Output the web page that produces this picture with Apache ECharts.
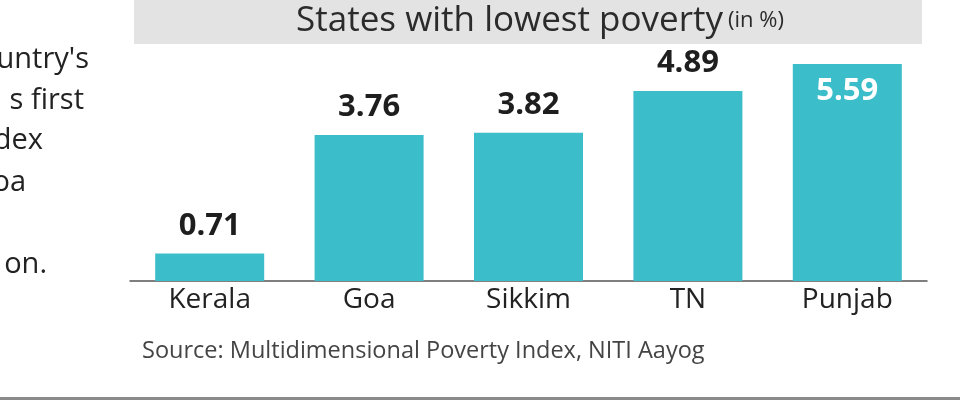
<!DOCTYPE html>
<html>
<head>
<meta charset="utf-8">
<script src="https://cdn.jsdelivr.net/npm/echarts@6/dist/echarts.min.js"></script>
<style>
  html, body { margin: 0; padding: 0; background: #fff; }
  #chart { width: 960px; height: 418px; }
</style>
</head>
<body>
<div id="chart"></div>
<script>
// data
const states = ['Kerala', 'Goa', 'Sikkim', 'TN', 'Punjab']
const povertyPct = [0.71, 3.76, 3.82, 4.89, 5.59]
const titleText = 'States with lowest poverty'
const unitText = '(in %)'
const sourceText = 'Source: Multidimensional Poverty Index, NITI Aayog'
// cut-off paragraph text on the left edge
const sideText = ["untry's", 's first', 'dex', 'oa', 'on.']

const FONT = '"Open Sans", Lato, sans-serif'
const BAR = '#3cbdca'

const chart = echarts.init(document.getElementById('chart'))

// right edge / vertical centre of each fragment
const sidePos = [[89, 60], [84, 101], [43, 141], [26, 183], [47, 265]]

chart.setOption({
  animation: false,
  title: {
    text: '{main|' + titleText + '} {unit|' + unitText + '}',
    left: 535,
    textAlign: 'center',
    top: -3,
    textStyle: {
      rich: {
        main: { fontFamily: FONT, fontSize: 35, fontWeight: 'normal', color: '#2b2b2b', lineHeight: 38 },
        unit: { fontFamily: FONT, fontSize: 22, fontWeight: 'normal', color: '#2b2b2b', lineHeight: 38 }
      }
    }
  },
  grid: { left: 130, right: 33, top: 48, bottom: 137 },
  xAxis: {
    type: 'category',
    data: states,
    axisTick: { show: false },
    axisLine: { lineStyle: { color: '#555', width: 1.5 } },
    axisLabel: { fontFamily: FONT, fontSize: 28, color: '#222', margin: 5 }
  },
  yAxis: {
    type: 'value',
    min: 0,
    max: 6,
    show: false,
    splitLine: { show: false }
  },
  series: [
    {
      type: 'bar',
      barWidth: 109,
      itemStyle: { color: BAR },
      label: {
        show: true,
        position: 'top',
        distance: 12,
        fontFamily: FONT,
        fontWeight: 'bold',
        fontSize: 31,
        color: '#1e1e1e',
        formatter: p => p.value.toFixed(2)
      },
      data: povertyPct.map((v, i) =>
        i === povertyPct.length - 1
          ? { value: v, label: { position: 'insideTop', distance: 12, color: '#fff' } }
          : v
      )
    }
  ],
  graphic: [
    {
      type: 'rect',
      z: -1,
      shape: { x: 134, y: 0, width: 788, height: 44 },
      style: { fill: '#e3e3e3' }
    },
    ...sideText.map((t, i) => ({
      type: 'text',
      x: sidePos[i][0],
      y: sidePos[i][1],
      style: {
        text: t,
        align: 'right',
        verticalAlign: 'middle',
        fontFamily: FONT,
        fontSize: 29,
        fill: '#222'
      }
    })),
    {
      type: 'text',
      x: 142,
      y: 351,
      style: {
        text: sourceText,
        verticalAlign: 'middle',
        fontFamily: FONT,
        fontSize: 23.5,
        fill: '#444'
      }
    },
    {
      type: 'rect',
      shape: { x: 0, y: 397, width: 960, height: 3 },
      style: { fill: '#8a8a8a' }
    }
  ]
})
</script>
</body>
</html>
